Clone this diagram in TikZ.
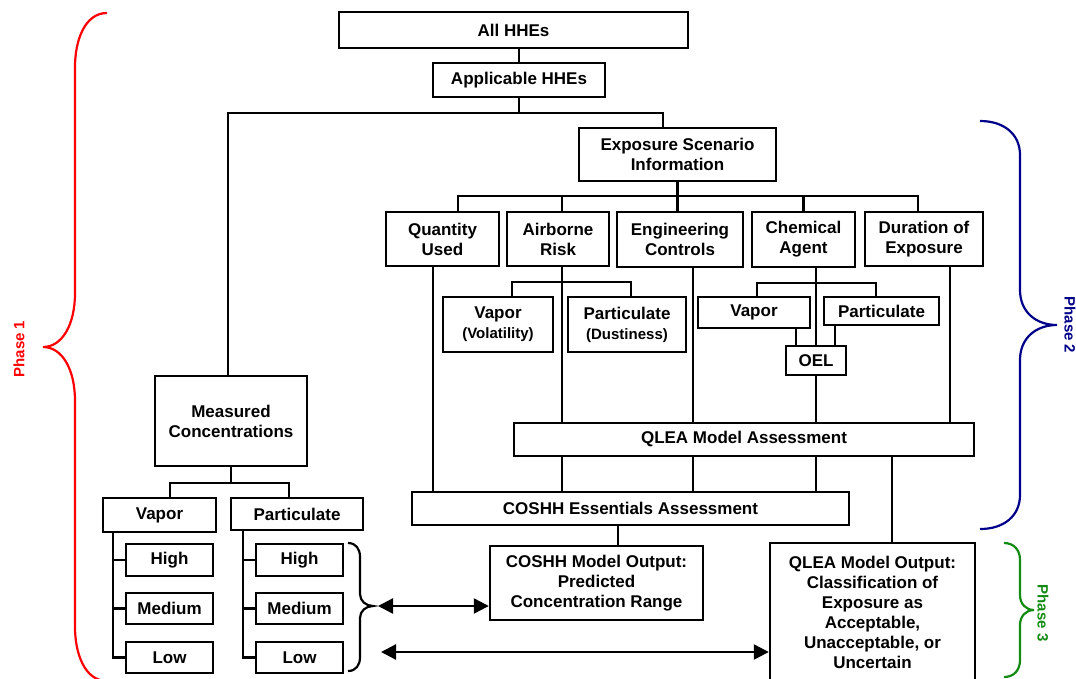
\documentclass[tikz,border=0pt]{standalone}
\usepackage{fontspec}
\setmainfont{Liberation Sans}
\usetikzlibrary{arrows.meta}
\definecolor{phaseone}{RGB}{255,0,0}
\definecolor{phasetwo}{RGB}{0,0,139}
\definecolor{phasethree}{RGB}{20,140,20}
\tikzset{
 box/.style={draw, line width=2.4pt, fill=white, align=center, inner sep=0pt, font=\fontsize{17}{20}\selectfont\bfseries},
 conn/.style={line width=2.3pt},
 brc/.style={line width=2.2pt},
 dbl/.style={line width=2.3pt, {Triangle[length=15pt,width=15pt]}-{Triangle[length=15pt,width=15pt]}},
 phlabel/.style={font=\fontsize{15}{17}\selectfont\bfseries},
}
\newcommand{\smallline}[1]{{\fontsize{15}{18}\selectfont #1}}
\begin{document}
\begin{tikzpicture}[x=1pt,y=-1pt]
\useasboundingbox (0,0) rectangle (1076,678);
\clip (0,0) rectangle (1076,678);
\fill[white] (0,0) rectangle (1076,678);

% nodes
\node[box, minimum width=349pt, minimum height=36pt] (all) at (513.5,30) {All HHEs};
\node[box, minimum width=172pt, minimum height=34pt] (app) at (519,80) {Applicable HHEs};
\node[box, minimum width=197pt, minimum height=53pt] (esi) at (677.5,154.5) {Exposure Scenario\\Information};
\node[box, minimum width=113pt, minimum height=54pt] (qu) at (442.5,239) {Quantity\\Used};
\node[box, minimum width=102pt, minimum height=54pt] (ar) at (558,239) {Airborne\\Risk};
\node[box, minimum width=126pt, minimum height=55pt] (ec) at (680,239.5) {Engineering\\Controls};
\node[box, minimum width=103pt, minimum height=55pt] (ca) at (803.5,239.5) {Chemical\\Agent};
\node[box, minimum width=118pt, minimum height=54pt] (de) at (924,239) {Duration of\\Exposure};
\node[box, minimum width=110pt, minimum height=55pt] (vv) at (498,324.5) {Vapor\\\smallline{(Volatility)}};
\node[box, minimum width=118pt, minimum height=55pt] (pd) at (627,324.5) {Particulate\\\smallline{(Dustiness)}};
\node[box, minimum width=112pt, minimum height=31pt] (cv) at (754,312.5) {Vapor};
\node[box, minimum width=115pt, minimum height=28pt] (cp) at (881.5,311) {Particulate};
\node[box, minimum width=60pt, minimum height=29pt] (oel) at (816,360.5) {OEL};
\node[box, minimum width=460pt, minimum height=33pt] (qmod) at (744,439.5) {QLEA Model Assessment};
\node[box, minimum width=437pt, minimum height=33pt] (coe) at (630.5,508.5) {COSHH Essentials Assessment};
\node[box, minimum width=213pt, minimum height=74pt] (cout) at (596.5,583) {COSHH Model Output:\\Predicted\\Concentration Range};
\node[box, minimum width=205pt, minimum height=138pt] (qout) at (872.5,612) {QLEA Model Output:\\Classification of\\Exposure as\\Acceptable,\\Unacceptable, or\\Uncertain};
\node[box, minimum width=152pt, minimum height=90pt] (meas) at (231,421) {Measured\\Concentrations};
\node[box, minimum width=113pt, minimum height=34pt] (mv) at (159.5,515) {Vapor};
\node[box, minimum width=132pt, minimum height=32pt] (mp) at (297,514) {Particulate};
\node[box, minimum width=87pt, minimum height=32pt] (vh) at (169.5,560) {High};
\node[box, minimum width=87pt, minimum height=31pt] (vm) at (169.5,608.5) {Medium};
\node[box, minimum width=87pt, minimum height=31pt] (vl) at (169.5,657.5) {Low};
\node[box, minimum width=87pt, minimum height=32pt] (ph) at (299.5,560) {High};
\node[box, minimum width=87pt, minimum height=31pt] (pm) at (299.5,608.5) {Medium};
\node[box, minimum width=87pt, minimum height=31pt] (pl) at (299.5,657.5) {Low};

% junction coordinates
\coordinate (b1) at (519,113);
\coordinate (b2) at (677.5,196);
\coordinate (b3) at (562,282);
\coordinate (b4) at (816,283);
\coordinate (b5) at (231,483);
\coordinate (btip) at (378,606);
\coordinate (a2) at (381,652);

% connectors
\draw[conn] (app.north) -- (app.north |- all.south);
\draw[conn] (app.south) -- (b1);
\draw[conn] ([xshift=-3pt]meas.north) |- (b1) -| ([xshift=-14.5pt]esi.north);
\draw[conn] (esi.south) -- ([xshift=-2.5pt]ec.north);
\draw[conn] ([xshift=15.5pt]qu.north) |- (b2) -| ([xshift=-6pt]de.north);
\draw[conn] ([xshift=4pt]ar.north) -- ([xshift=4pt]ar.north |- b2);
\draw[conn] (ca.north) -- (ca.north |- b2);
% quantity
\draw[conn] ([xshift=-9.5pt]qu.south) -- ([xshift=-9.5pt]qu.south |- coe.north);
% airborne
\draw[conn] ([xshift=4pt]ar.south) -- ([xshift=4pt]ar.south |- qmod.north);
\draw[conn] ([xshift=4pt]ar.south |- qmod.south) -- ([xshift=4pt]ar.south |- coe.north);
\draw[conn] ([xshift=14pt]vv.north) |- (b3) -| ([xshift=4pt]pd.north);
% engineering
\draw[conn] ([xshift=13pt]ec.south) -- ([xshift=13pt]ec.south |- qmod.north);
\draw[conn] ([xshift=13pt]ec.south |- qmod.south) -- ([xshift=13pt]ec.south |- coe.north);
% chemical
\draw[conn] ([xshift=12.5pt]ca.south) -- (oel.north);
\draw[conn] ([xshift=3pt]cv.north) |- (b4) -| ([xshift=-5.5pt]cp.north);
\draw[conn] ([xshift=42pt]cv.south) -- ([xshift=42pt]cv.south |- oel.north);
\draw[conn] ([xshift=-46.5pt]cp.south) -- ([xshift=-46.5pt]cp.south |- oel.north);
\draw[conn] (oel.south) -- (oel.south |- qmod.north);
\draw[conn] (oel.south |- qmod.south) -- (oel.south |- coe.north);
% duration
\draw[conn] ([xshift=26pt]de.south) -- ([xshift=26pt]de.south |- qmod.north);
% outputs
\draw[conn] ([xshift=19.5pt]qout.north |- qmod.south) -- ([xshift=19.5pt]qout.north);
\draw[conn] ([xshift=21.5pt]cout.north |- coe.south) -- ([xshift=21.5pt]cout.north);
% measured
\draw[conn] (meas.south) -- (b5);
\draw[conn] ([xshift=10.5pt]mv.north) |- (b5) -| ([xshift=-8pt]mp.north);
\draw[conn] (vl.west) -| ([xshift=-46.5pt]mv.south);
\draw[conn] (vh.west) -- ++(-13,0);
\draw[conn] (vm.west) -- ++(-13,0);
\draw[conn] (pl.west) -| ([xshift=-54pt]mp.south);
\draw[conn] (ph.west) -- ++(-13,0);
\draw[conn] (pm.west) -- ++(-13,0);

% small brace and arrows
\draw[brc] (348,543) .. controls (356,543) and (360,549) .. (360,557) -- (360,594) .. controls (360,601) and (366,606) .. (373,606) .. controls (366,606) and (360,611) .. (360,618) -- (360,657) .. controls (360,665) and (356,671) .. (348,671);
\draw[dbl] (btip) -- (btip -| cout.west);
\draw[dbl] (a2) -- (a2 -| qout.west);

% phase braces
\draw[brc, phaseone] (107,13) .. controls (85,13) and (75,40) .. (75,67) -- (75,293) .. controls (75,325) and (62,347) .. (43,347) .. controls (62,347) and (75,369) .. (75,401) -- (75,627) .. controls (75,654) and (85,681) .. (107,681);
\node[phlabel, text=phaseone, rotate=90] (p1) at (19,349) {Phase 1};

\draw[brc, phasetwo] (980,121) .. controls (1005,121) and (1020,135) .. (1020,155) -- (1020,290) .. controls (1020,312) and (1036,325) .. (1057,325) .. controls (1036,325) and (1020,338) .. (1020,360) -- (1020,495) .. controls (1020,515) and (1005,529) .. (980,529);
\node[phlabel, text=phasetwo, rotate=-90] (p2) at (1070,325) {Phase 2};

\draw[brc, phasethree] (1004,543) .. controls (1014,543) and (1020,550) .. (1020,560) -- (1020,595) .. controls (1020,604) and (1026,610) .. (1034,610) .. controls (1026,610) and (1020,616) .. (1020,625) -- (1020,660) .. controls (1020,670) and (1014,677) .. (1004,677);
\node[phlabel, text=phasethree, rotate=-90] (p3) at (1043,613) {Phase 3};
\end{tikzpicture}
\end{document}
